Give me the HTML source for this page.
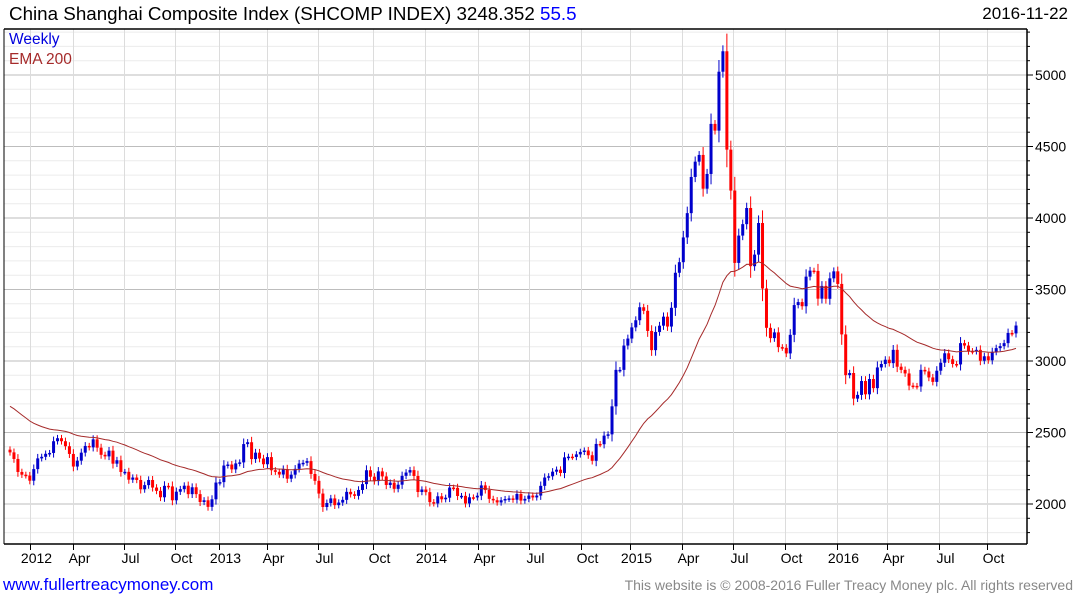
<!DOCTYPE html>
<html><head><meta charset="utf-8">
<style>
body{margin:0;background:#fff;font-family:"Liberation Sans",sans-serif;}
#wrap{position:relative;width:1075px;height:600px;overflow:hidden;}
.t{position:absolute;white-space:nowrap;}
</style></head>
<body>
<div id="wrap">
<div class="t" style="left:9px;top:3px;font-size:18.8px;color:#000;">China Shanghai Composite Index (SHCOMP INDEX) 3248.352 <span style="color:#0000ff">55.5</span></div>
<div class="t" style="right:7px;top:4px;font-size:17px;color:#000;">2016-11-22</div>
<svg id="svg" width="1075" height="600" style="position:absolute;left:0;top:0"></svg>
<div class="t" style="left:9px;top:31px;font-size:15.5px;color:#0000dd;">Weekly</div>
<div class="t" style="left:9px;top:51px;font-size:15.5px;color:#a52a2a;">EMA 200</div>
<div class="t" style="left:3px;top:575px;font-size:17px;color:#0000ff;">www.fullertreacymoney.com</div>
<div class="t" style="right:2px;top:577px;font-size:14px;color:#888;">This website is © 2008-2016 Fuller Treacy Money plc. All rights reserved</div>
</div>
<script>
const closes=[2361,2315,2224,2205,2199,
2163,2244,2319,2330,2351,2357,2439,2460,2439,2404,2350,2262,2303,2359,2406,2396,2452,2394,2344,2333,2373,2282,2306,2224,2225,2170,2185,2168,2103,2132,2168,2115,2092,2047,2127,2123,2026,2086,2104,2128,2069,2117,2069,2014,2026,1980,2033,2150,2153,2269,
2276,2242,2284,2291,2419,2432,2314,2359,2318,2278,2328,2236,2225,2206,2244,2177,2205,2246,2283,2288,2300,2210,2162,2073,1979,2007,2039,1992,2010,2029,2085,2068,2057,2098,2139,2236,2191,2160,2228,2193,2133,2149,2106,2135,2197,2220,2237,2196,2084,2101,
2083,2013,2004,2054,2033,2044,2115,2113,2056,2057,2004,2047,2046,2058,2130,2098,2036,2026,2011,2026,2035,2039,2030,2070,2024,2036,2059,2046,2059,2127,2185,2194,2226,2240,2217,2326,2331,2329,2347,2364,2374,2341,2302,2420,2418,2478,2487,2683,2938,2938,3108,3157,3235,
3285,3376,3351,3210,3076,3203,3247,3310,3241,3372,3617,3691,3864,4034,4287,4394,4441,4205,4308,4658,4611,5023,5166,4478,4192,3686,3877,3957,4070,3663,3744,3965,3507,3232,3160,3200,3097,3092,3053,3183,3391,3412,3383,3590,3632,3630,3436,3525,3435,3578,3627,3539,
3186,2901,2916,2737,2763,2860,2767,2874,2810,2955,2979,3009,2985,3078,2960,2938,2913,2828,2826,2822,2938,2927,2885,2854,2932,2988,3054,3012,2979,2976,3125,3108,3070,3067,3078,3002,3033,3005,3064,3090,3104,3125,3196,3193,3248];
const firstOpen=2380;
const emaSeed=2700;
const yTicks=[2000,2500,3000,3500,4000,4500,5000];
const xLabels=["2012","Apr","Jul","Oct","2013","Apr","Jul","Oct","2014","Apr","Jul","Oct","2015","Apr","Jul","Oct","2016","Apr","Jul","Oct"];
const xLabelWeek=[6.6,17.4,30.3,43.2,54.3,66.4,79.3,93.2,106.3,119.7,132.6,145.7,158.1,171.2,184.1,197.2,210.4,223,236.1,248.2];

const L=4,R=1027,T=29,B=544;
const y=v=>504-(v-2000)*0.1430;
const x=i=>10+i*(1016-10)/(closes.length-1);
const NS="http://www.w3.org/2000/svg",svg=document.getElementById('svg');
function mk(tag,a,name){const e=document.createElementNS(NS,tag);for(const k in a)e.setAttribute(k,a[k]);


svg.appendChild(e);return e;}
for(let v=1800;v<=5300;v+=100){const yy=y(v);if(yy<T||yy>B)continue;
 mk('line',{x1:L,x2:R,y1:yy,y2:yy,stroke:v%500?'#ececec':'#bdbdbd','stroke-width':1},'h-grid');
 mk('line',{x1:R,x2:R+(v%500?3:6),y1:yy,y2:yy,stroke:'#000'},'y-tick');}
xLabelWeek.forEach((w,k)=>{const xx=Math.round(x(w))+0.5-6;
 mk('line',{x1:xx,x2:xx,y1:T,y2:B,stroke:'#dcdcdc'},'v-grid');
 mk('line',{x1:xx,x2:xx,y1:B,y2:B+6,stroke:'#000'},'x-tick');
 const t=mk('text',{x:xx+6,y:B+19,'font-size':14,'text-anchor':'middle',fill:'#000','font-family':'Liberation Sans, sans-serif'},'x-label');t.textContent=xLabels[k];});
yTicks.forEach(v=>{const t=mk('text',{x:R+8,y:y(v)+5,'font-size':14,fill:'#000','font-family':'Liberation Sans, sans-serif'},'y-label');t.textContent=v;});
mk('line',{x1:L,x2:R,y1:T,y2:T,stroke:'#000','stroke-width':1.5},'top-border');
mk('line',{x1:L,x2:R,y1:B,y2:B,stroke:'#000','stroke-width':1.5},'x-axis');
mk('line',{x1:R,x2:R,y1:T,y2:B,stroke:'#000','stroke-width':1.5},'y-axis');
mk('line',{x1:L,x2:L,y1:T,y2:B,stroke:'#000','stroke-width':1},'left-border');
let prev=firstOpen;
closes.forEach((c,i)=>{const o=prev;prev=c;const up=c>=o;const col=up?'#0000cc':'#ff0000';
 const hi=Math.max(o,c)+Math.abs(c-o)*0.15+20,lo=Math.min(o,c)-Math.abs(c-o)*0.15-20;const xx=x(i);
 mk('line',{x1:xx,x2:xx,y1:y(hi),y2:y(lo),stroke:col,'stroke-width':1},'candle-wick');
 const top=y(Math.max(o,c)),h=Math.max(1.5,y(Math.min(o,c))-top);
 mk('rect',{x:xx-1.5,y:top,width:3,height:h,fill:col},'candle-body');});
let e=emaSeed,pts=[];const a=2/41;
closes.forEach((c,i)=>{e=e+a*(c-e);pts.push(x(i).toFixed(1)+','+y(e).toFixed(1));});
mk('polyline',{points:pts.join(' '),fill:'none',stroke:'#a52a2a','stroke-width':1},'ema-200-line');
</script>
</body></html>
